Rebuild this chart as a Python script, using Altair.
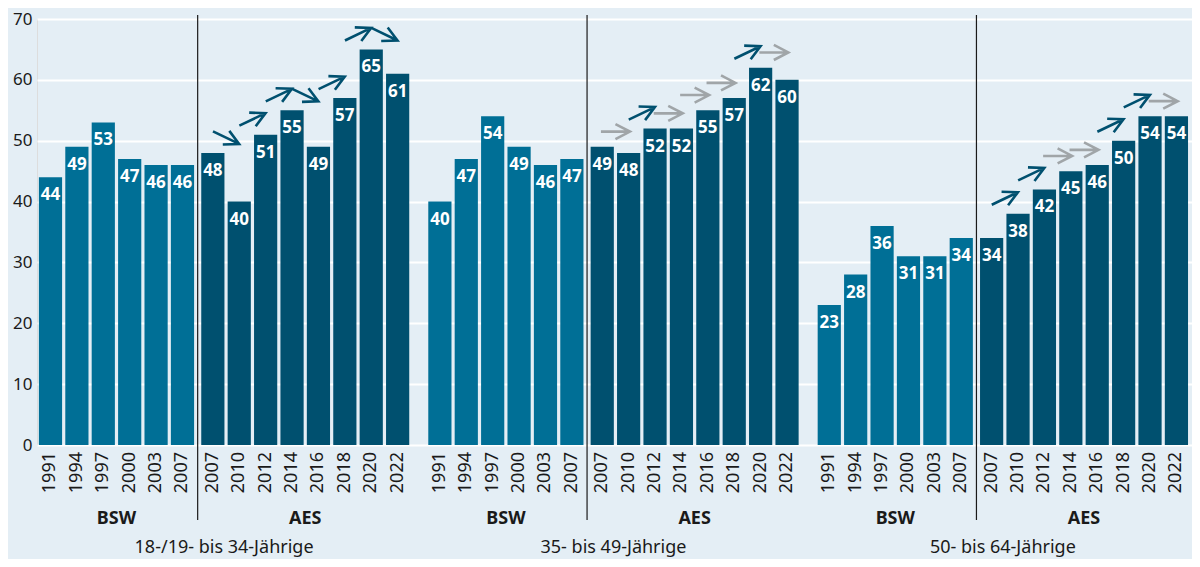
import altair as alt
import pandas as pd

groups = ["18-/19- bis 34-Jährige", "35- bis 49-Jährige", "50- bis 64-Jährige"]
bsw_years = ["1991", "1994", "1997", "2000", "2003", "2007"]
aes_years = ["2007", "2010", "2012", "2014", "2016", "2018", "2020", "2022"]
bsw_values = [
    [44, 49, 53, 47, 46, 46],
    [40, 47, 54, 49, 46, 47],
    [23, 28, 36, 31, 31, 34],
]
aes_values = [
    [48, 40, 51, 55, 49, 57, 65, 61],
    [49, 48, 52, 52, 55, 57, 62, 60],
    [34, 38, 42, 45, 46, 50, 54, 54],
]
# trend arrows between consecutive AES waves
arrow_dir = [
    ["down", "up", "up", "down", "up", "up", "down"],
    ["flat", "up", "flat", "flat", "flat", "up", "flat"],
    ["up", "up", "flat", "flat", "up", "up", "flat"],
]
arrow_sig = [
    ["ja", "ja", "ja", "ja", "ja", "ja", "ja"],
    ["nein", "ja", "nein", "nein", "nein", "ja", "nein"],
    ["ja", "ja", "nein", "nein", "ja", "ja", "nein"],
]

# layout: slot index along a shared axis (group step and small gap between surveys)
GROUP_STEP = 14.75
SURVEY_GAP = 0.15
NB = len(bsw_years)


def slot_pos(gi, si):
    return gi * GROUP_STEP + si + (SURVEY_GAP if si >= NB else 0)


rows = []
for gi, g in enumerate(groups):
    years = bsw_years + aes_years
    vals = bsw_values[gi] + aes_values[gi]
    for si, (y, v) in enumerate(zip(years, vals)):
        rows.append({"group": g, "pos": slot_pos(gi, si), "year": y,
                     "series": "BSW" if si < NB else "AES", "value": v})
bars = pd.DataFrame(rows)

ang_map = {"up": 334.4, "down": 25.6, "flat": 0}
arows = []
for gi, g in enumerate(groups):
    vals = aes_values[gi]
    for i in range(len(vals) - 1):
        arows.append({
            "pos": (slot_pos(gi, NB + i) + slot_pos(gi, NB + i + 1)) / 2,
            "ay": max(vals[i], vals[i + 1]) + 2.5,
            "ang": ang_map[arrow_dir[gi][i]],
            "sig": arrow_sig[gi][i],
        })
arrows = pd.DataFrame(arows)

seps = pd.DataFrame({"pos": [(slot_pos(gi, NB - 1) + slot_pos(gi, NB)) / 2 for gi in range(3)]})
nA = len(aes_years)
surveys = pd.DataFrame({
    "pos": [p for gi in range(3) for p in (
        (slot_pos(gi, 0) + slot_pos(gi, NB - 1)) / 2,
        (slot_pos(gi, NB) + slot_pos(gi, NB + nA - 1)) / 2)],
    "label": ["BSW", "AES"] * 3,
})
glabels = pd.DataFrame({
    "group": groups,
    "pos": [(slot_pos(gi, 0) + slot_pos(gi, NB + nA - 1)) / 2 for gi in range(3)],
})

X = alt.X("pos:Q", scale=alt.Scale(domain=[-0.511, 43.24], nice=False, zero=False, padding=0), axis=None)

Y = alt.Y(
    "value:Q",
    scale=alt.Scale(domain=[0, 70], nice=False),
    axis=alt.Axis(
        values=list(range(0, 71, 10)), title=None, domain=False, ticks=False,
        labelFontSize=17, labelColor="#1a1a1a", labelPadding=5,
        gridColor="white", gridWidth=2,
    ),
)

bar_layer = alt.Chart(bars).mark_bar(width=23.2).encode(
    x=X, y=Y,
    color=alt.Color("series:N", scale=alt.Scale(domain=["BSW", "AES"], range=["#006f96", "#00506f"]), legend=None),
)

val_layer = alt.Chart(bars).mark_text(
    baseline="middle", dy=18, fontWeight="bold", fontSize=17, color="white"
).encode(x=X, y="value:Q", text="value:Q")

year_layer = alt.Chart(bars).mark_text(
    angle=270, align="right", baseline="middle", fontSize=18, color="#1a1a1a"
).encode(x=X, y=alt.value(433), text="year:N")

sep_layer = alt.Chart(seps).mark_rule(color="#1a1a1a", strokeWidth=1.2).encode(
    x=X, y=alt.value(-4), y2=alt.value(501)
)

survey_layer = alt.Chart(surveys).mark_text(
    fontWeight="bold", fontSize=18, baseline="alphabetic", color="#1a1a1a"
).encode(x=X, y=alt.value(505), text="label:N")

group_layer = alt.Chart(glabels).mark_text(
    fontSize=18, baseline="alphabetic", color="#1a1a1a"
).encode(x=X, y=alt.value(534), text="group:N")

arrow_layer = alt.Chart(arrows).mark_point(
    shape="M-1,0L1,0M0,-0.52L1,0L0,0.52", filled=False, strokeWidth=2.6, size=841, opacity=1
).encode(
    x=X, y="ay:Q",
    angle=alt.Angle("ang:Q", scale=None),
    stroke=alt.Stroke("sig:N", scale=alt.Scale(domain=["ja", "nein"], range=["#00506f", "#a0a5a8"]), legend=None),
)

chart = alt.layer(
    bar_layer, val_layer, year_layer, sep_layer, survey_layer, group_layer, arrow_layer
).properties(
    width=1155, height=426,
    padding={"left": 29, "top": 11, "right": 0, "bottom": 114},
    autosize=alt.AutoSizeParams(type="none"),
    background="#e4eef5",
).configure_view(stroke=None).configure(font="Noto Sans")

chart.save("out.html", embed_options={"renderer": "svg", "actions": False})
